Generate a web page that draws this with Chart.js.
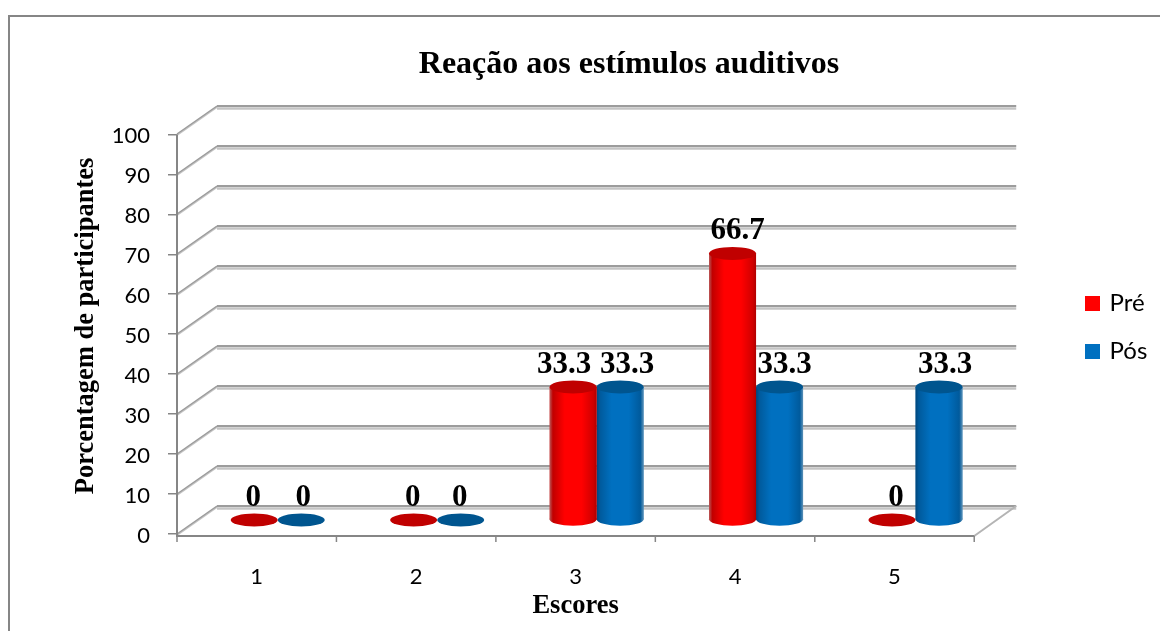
<!DOCTYPE html>
<html>
<head>
<meta charset="utf-8">
<style>
  html, body { margin: 0; padding: 0; background: #fff; }
  #wrap { width: 1160px; height: 631px; position: relative; }
</style>
<script src="https://cdn.jsdelivr.net/npm/chart.js@4"></script>
</head>
<body>
<div id="wrap"><canvas id="chart" width="1160" height="631"></canvas></div>
<script>
const scores = ['1', '2', '3', '4', '5'];
const pre = [0, 0, 33.3, 66.7, 0];
const pos = [0, 0, 33.3, 33.3, 33.3];

const SERIF = '"Liberation Serif", "Times New Roman", serif';
const SANS = 'Lato, "Open Sans", sans-serif';

// depth of the 3D box: back wall sits this far from the front plane
const WALL = { dx: 40, dy: -28 };
// the cylinders stand half way along the floor
const MID = { dx: 21, dy: -14 };
const CAP_RY = 6.5;

const skins = [
  { top: '#c00000', stops: ['#b85a5a', '#c00000', '#ff0000', '#ff0000', '#d00000', '#b00000'] },
  { top: '#00558f', stops: ['#00457a', '#005a9c', '#0070c0', '#0070c0', '#005a9c', '#5f93b8'] }
];
const skinStops = [0, 0.07, 0.32, 0.68, 0.93, 1];

// hand placement of the value labels, in pixels off the bar centre
const labelShift = [
  [-1, -1, -9, 5, 4],
  [2, -1, 7, 5, 6]
];

function line(ctx, x1, y1, x2, y2, color, width) {
  ctx.strokeStyle = color;
  ctx.lineWidth = width;
  ctx.beginPath();
  ctx.moveTo(x1, y1);
  ctx.lineTo(x2, y2);
  ctx.stroke();
}

const box3d = {
  id: 'box3d',
  afterLayout(chart) {
    // title is centred over the back wall rather than the page
    const t = chart.titleBlock;
    const shift = 629 - (t.left + t.right) / 2;
    t.left += shift;
    t.right += shift;
    // legend keeps to the far right, clear of the plot
    const dx = 1087.5 - (chart.legend.left + chart.options.plugins.legend.labels.padding);
    chart.legend.left += dx;
    chart.legend.right += dx;
    chart.legend.top += 12;
    chart.legend.bottom += 12;
  },
  beforeDraw(chart) {
    const ctx = chart.ctx;
    // outer chart border, only top and left are in view
    line(ctx, 9, 631, 9, 16, '#868686', 2);
    line(ctx, 8, 16, 1160, 16, '#868686', 2);
  },
  beforeDatasetsDraw(chart) {
    const { ctx, chartArea: a, scales: { y } } = chart;
    ctx.save();
    y.ticks.forEach(t => {
      const py = Math.round(y.getPixelForValue(t.value));
      const bx = a.left + WALL.dx;
      const by = py + WALL.dy;
      line(ctx, a.left, py + 1, bx, by + 1, '#c4c4c4', 2);
      line(ctx, a.left, py, bx, by, '#9c9c9c', 1.5);
      line(ctx, bx, by + 2.5, a.right + WALL.dx + 2, by + 2.5, '#c4c4c4', 2.5);
      line(ctx, bx, by, a.right + WALL.dx + 2, by, '#9c9c9c', 2);
    });
    const fy = a.bottom + 2;
    // floor edge on the right
    line(ctx, a.right, fy, a.right + WALL.dx + 2, a.bottom + WALL.dy, '#b4b4b4', 2);
    // value axis and category axis lines with their ticks
    line(ctx, a.left, a.top, a.left, fy, '#868686', 2);
    line(ctx, a.left - 1, fy, a.right, fy, '#868686', 2);
    scores.concat('').forEach((_, i) => {
      const tx = a.left + i * (a.right - a.left) / scores.length;
      line(ctx, tx, fy, tx, fy + 6, '#868686', 1.5);
    });
    ctx.restore();
  },
  beforeDatasetDraw(chart) {
    chart.ctx.save();
    chart.ctx.translate(MID.dx, MID.dy);
  },
  afterDatasetDraw(chart, args) {
    const ctx = chart.ctx;
    const skin = skins[args.index];
    chart.getDatasetMeta(args.index).data.forEach(bar => {
      const { x, y, base, width } = bar.getProps(['x', 'y', 'base', 'width'], true);
      const rx = width / 2;
      const g = ctx.createLinearGradient(x - rx, 0, x + rx, 0);
      skin.stops.forEach((c, i) => g.addColorStop(skinStops[i], c));
      ctx.fillStyle = g;
      if (base - y > 0.5) {
        ctx.fillRect(x - rx, y, width, base - y);
        ctx.beginPath();
        ctx.ellipse(x, base, rx, CAP_RY, 0, 0, Math.PI * 2);
        ctx.fill();
      }
      ctx.fillStyle = skin.top;
      ctx.beginPath();
      ctx.ellipse(x, y, rx, CAP_RY, 0, 0, Math.PI * 2);
      ctx.fill();
    });
    ctx.restore();
  },
  afterDatasetsDraw(chart) {
    const ctx = chart.ctx;
    ctx.save();
    ctx.fillStyle = '#000';
    ctx.font = 'bold 31px ' + SERIF;
    ctx.textAlign = 'center';
    ctx.textBaseline = 'middle';
    chart.data.datasets.forEach((ds, d) => {
      chart.getDatasetMeta(d).data.forEach((bar, i) => {
        ctx.fillText(String(ds.data[i]), bar.x + MID.dx + labelShift[d][i], bar.y + MID.dy - 22);
      });
    });
    // value axis title sits a little above the axis centre
    ctx.translate(86, 326);
    ctx.rotate(-Math.PI / 2);
    ctx.font = 'bold 26.5px ' + SERIF;
    ctx.fillText('Porcentagem de participantes', 0, 0);
    ctx.restore();
  }
};

new Chart(document.getElementById('chart'), {
  type: 'bar',
  data: {
    labels: scores,
    datasets: [
      // the thick border only squares up the narrow legend box, the bars get painted over
      { label: 'Pré', data: pre, backgroundColor: '#ff0000', borderColor: '#ff0000', borderWidth: 5, barPercentage: 1, categoryPercentage: 0.59 },
      { label: 'Pós', data: pos, backgroundColor: '#0070c0', borderColor: '#0070c0', borderWidth: 5, barPercentage: 1, categoryPercentage: 0.59 }
    ]
  },
  plugins: [box3d],
  options: {
    responsive: false,
    animation: false,
    layout: { padding: { top: 0, left: 0, right: 92, bottom: 0 } },
    plugins: {
      tooltip: { enabled: false },
      title: {
        display: true,
        text: 'Reação aos estímulos auditivos',
        color: '#000',
        font: { family: SERIF, size: 32, weight: 'bold' },
        padding: { top: 46, bottom: 50 }
      },
      legend: {
        position: 'right',
        labels: {
          color: '#000',
          font: { family: SANS, size: 24 },
          boxWidth: 10,
          boxHeight: 10,
          padding: 24
        }
      }
    },
    scales: {
      x: {
        afterFit(scale) { scale.height = 97; },
        grid: { display: false },
        border: { display: false },
        ticks: { color: '#000', font: { family: SANS, size: 22 }, padding: 22, maxRotation: 0 },
        title: {
          display: true,
          text: 'Escores',
          color: '#000',
          font: { family: SERIF, size: 26.5, weight: 'bold' },
          padding: { top: 0, bottom: 9 }
        }
      },
      y: {
        min: 0,
        max: 100,
        afterFit(scale) { scale.width = 177; },
        border: { display: false },
        grid: { drawOnChartArea: false, color: '#868686', lineWidth: 1.5, tickLength: 9 },
        ticks: { stepSize: 10, color: '#000', font: { family: SANS, size: 22 }, padding: 18, labelOffset: 2 }
      }
    }
  }
});
</script>
</body>
</html>
